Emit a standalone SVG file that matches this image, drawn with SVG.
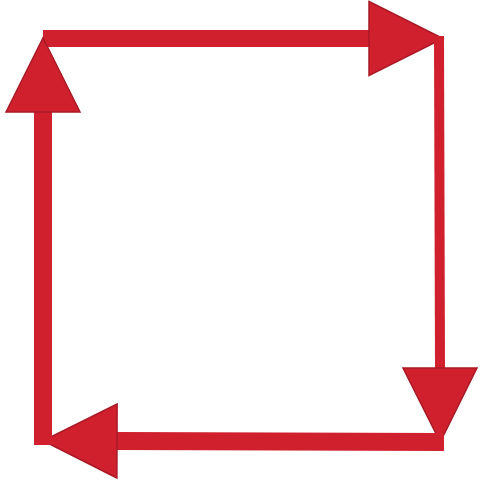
<svg xmlns="http://www.w3.org/2000/svg" width="481" height="482" viewBox="0 0 481 482">
  <defs>
    <style>
      .shaft { stroke: #d0202e; stroke-linecap: butt; fill: none; }
    </style>
    <marker id="head" markerUnits="userSpaceOnUse" viewBox="0 0 76 76" refX="1" refY="38" markerWidth="76" markerHeight="76" orient="auto" overflow="visible">
      <path d="M1,1 L75,38 L1,75 Z" fill="#d0202e" stroke="#a81a26" stroke-width="1.5" stroke-linejoin="miter"/>
    </marker>
  </defs>
  <rect width="481" height="482" fill="#ffffff"/>
  <g id="connectors">
    <line class="shaft" x1="43" y1="38.5" x2="369" y2="38.5" stroke-width="17" marker-end="url(#head)"/>
    <line class="shaft" x1="439" y1="36" x2="440" y2="368" stroke-width="10" marker-end="url(#head)"/>
    <line class="shaft" x1="444" y1="442" x2="117" y2="441" stroke-width="18" marker-end="url(#head)"/>
    <line class="shaft" x1="43" y1="445" x2="43" y2="112" stroke-width="18" marker-end="url(#head)"/>
  </g>
</svg>
